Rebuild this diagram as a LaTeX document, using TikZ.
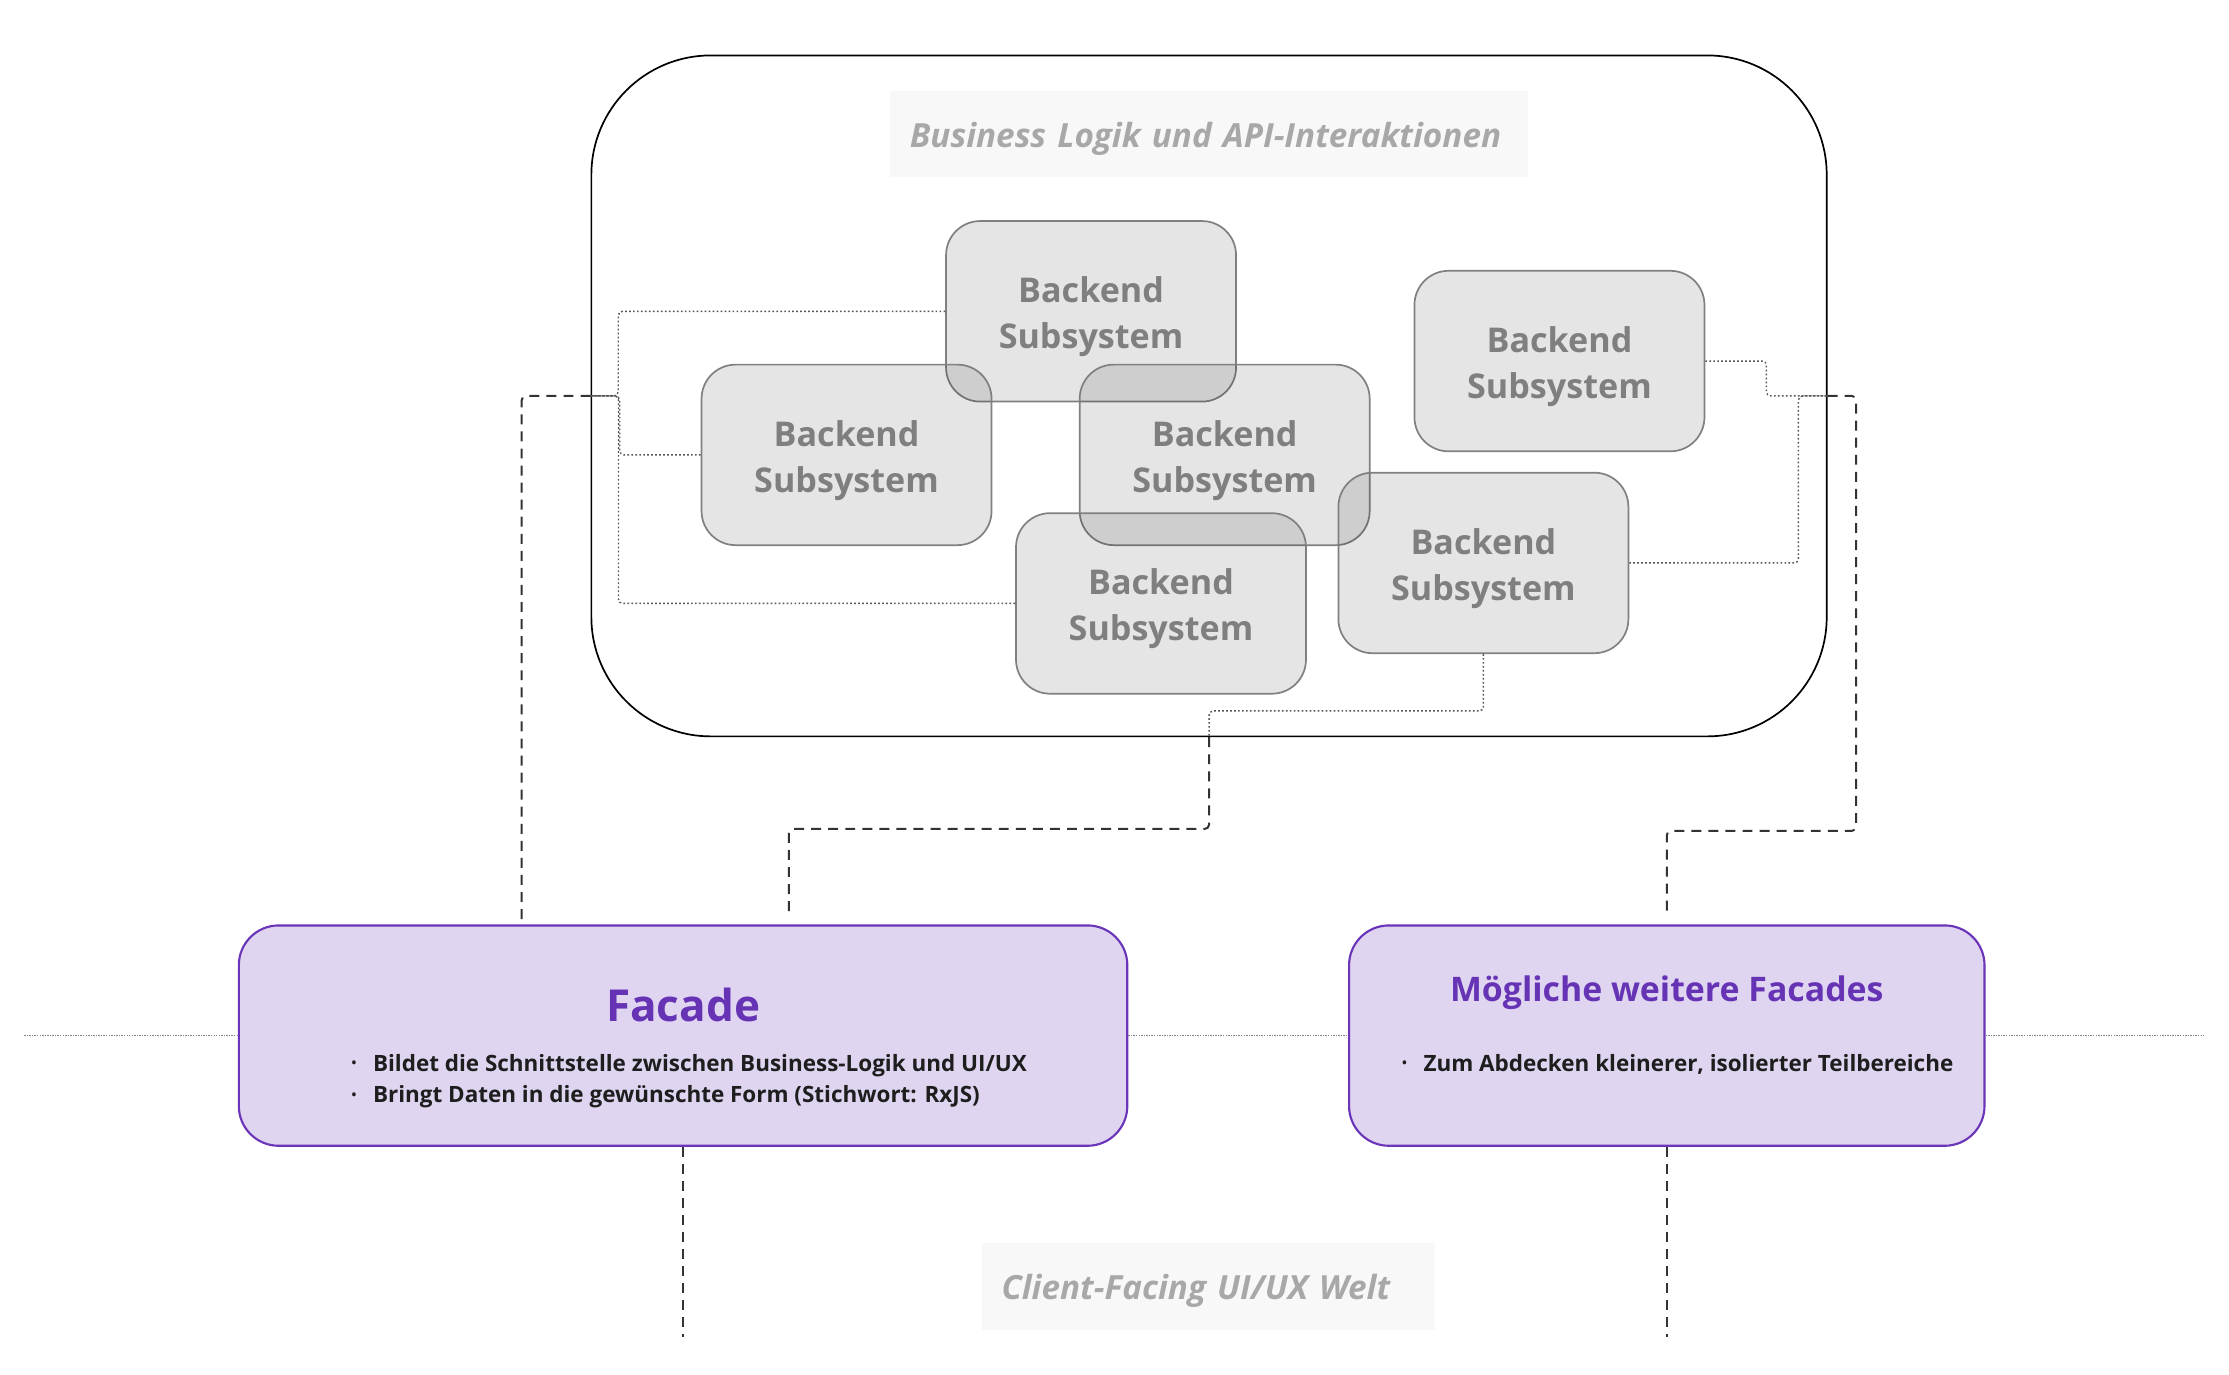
\documentclass[tikz,border=0pt]{standalone}
\usepackage{fontspec}
\setmainfont{Open Sans}
\usepackage{tikz}
\usetikzlibrary{positioning}

\definecolor{bsline}{HTML}{808080}
\definecolor{bstext}{HTML}{7F7F7F}
\definecolor{fcline}{HTML}{6A35B8}
\definecolor{fcfill}{HTML}{DFD5F0}
\definecolor{fctext}{HTML}{6633B5}
\definecolor{bltext}{HTML}{1E1E1E}
\definecolor{lbfill}{HTML}{F8F8F8}
\definecolor{lbtext}{HTML}{A8A8A8}
\definecolor{dotline}{HTML}{555555}
\definecolor{dashline}{HTML}{333333}
\definecolor{lvline}{HTML}{808080}

\newcommand{\bul}{\makebox[7.5pt][l]{\raisebox{1.2pt}{\fontsize{4.5}{5}\selectfont\textbullet}}}
\newcommand{\bsname}{\raisebox{-1.75pt}[\height][\depth]{\begin{tabular}{@{}c@{}}Backend\\Subsystem\end{tabular}}}

\begin{document}
\begin{tikzpicture}[x=0.5pt, y=-0.5pt,
    backend/.style={draw=bsline, line width=0.6pt, fill=black, fill opacity=0.1, text opacity=1, text=bstext, rounded corners=12pt, minimum width=102pt, minimum height=63.5pt, font=\bfseries\fontsize{12}{16.2}\selectfont},
    facadebox/.style={draw=fcline, line width=0.75pt, fill=fcfill, rounded corners=14pt, minimum height=77.5pt},
    areabox/.style={fill=lbfill, text=lbtext, inner xsep=7pt, inner ysep=0pt, align=left, text height=10.5pt, text depth=1.5pt, minimum height=30.3pt, font=\bfseries\itshape\fontsize{11.7}{14}\selectfont},
    bullet/.style={anchor=base west, inner sep=0pt, text=bltext, font=\bfseries\fontsize{7.9}{10}\selectfont},
    innerlink/.style={draw=dotline, line width=0.5pt, dash pattern=on 0.6pt off 0.8pt, rounded corners=1.5pt},
    outerlink/.style={draw=dashline, line width=0.7pt, dash pattern=on 3.5pt off 2.5pt, rounded corners=1.5pt},
    levelline/.style={draw=lvline, line width=0.45pt, dash pattern=on 0.5pt off 0.4pt}]
    \useasboundingbox (0,0) rectangle (1568,967.2);

    \node[draw, line width=0.6pt, rounded corners=42pt, minimum width=434.5pt, minimum height=239.5pt] (bl) at (850.5,278.5) {};
    \node[areabox, text width=210.5pt] (bltitle) at (850.5,94.5) {Business Logik und API-Interaktionen};

    \node[backend] (bs1) at (767.5,219) {\bsname};
    \node[backend] (bs2) at (595.5,320) {\bsname};
    \node[backend] (bs3) at (861.5,320) {\bsname};
    \node[backend] (bs4) at (1097,254) {\bsname};
    \node[backend] (bs5) at (816.7,424.5) {\bsname};
    \node[backend] (bs6) at (1043.5,396) {\bsname};

    \node[facadebox, minimum width=312.5pt] (facade) at (480.5,728.5) {};
    \node[anchor=base, text=fctext, font=\bfseries\fontsize{15.5}{18}\selectfont] (facadetitle) at (480.5,718.8) {Facade};
    \node[bullet] (fb1) at (247,753.4) {\bul Bildet die Schnittstelle zwischen Business-Logik und UI/UX};
    \node[bullet] (fb2) at (247,775.6) {\bul Bringt Daten in die gewünschte Form (Stichwort: RxJS)};

    \node[facadebox, minimum width=223.5pt] (more) at (1172.5,728.5) {};
    \node[anchor=base, text=fctext, font=\bfseries\fontsize{11.9}{14}\selectfont] (moretitle) at (1172.5,704.6) {Mögliche weitere Facades};
    \node[bullet] (mb1) at (986,753.4) {\bul Zum Abdecken kleinerer, isolierter Teilbereiche};

    \node[areabox, text width=145.5pt] (uititle) at (850,905) {Client-Facing UI/UX Welt};

    \draw[innerlink] (bs1.west) -- ++(-230,0) |- (bl.west);
    \draw[innerlink] (bs2.west) -- ++(-57,0) |- (bl.west);
    \draw[innerlink] (bs5.west) -- ++(-279,0) |- (bl.west);
    \draw[innerlink] (bs4.east) -- ++(43,0) |- (bl.east);
    \draw[innerlink] (bs6.east) -- ++(119,0) |- (bl.east);
    \draw[innerlink] (bs6.south) -- ++(0,40) -| (bl.south);

    \draw[outerlink] (bl.west) -| ([xshift=-56.75pt]facade.north);
    \draw[outerlink] (bl.south) -- ++(0,64.5) -| ([xshift=37.25pt,yshift=3pt]facade.north);
    \draw[outerlink] (bl.east) -- ++(20,0) -- ++(0,306) -| ([yshift=2.5pt]more.north);
    \draw[outerlink] (facade.south) -- ++(0,134);
    \draw[outerlink] (more.south) -- ++(0,134);

    \coordinate (lvl) at (17,728.5);
    \coordinate (lvr) at (1550,728.5);
    \draw[levelline] (lvl) -- (facade.west);
    \draw[levelline] (facade.east) -- (more.west);
    \draw[levelline] (more.east) -- (lvr);
\end{tikzpicture}
\end{document}
